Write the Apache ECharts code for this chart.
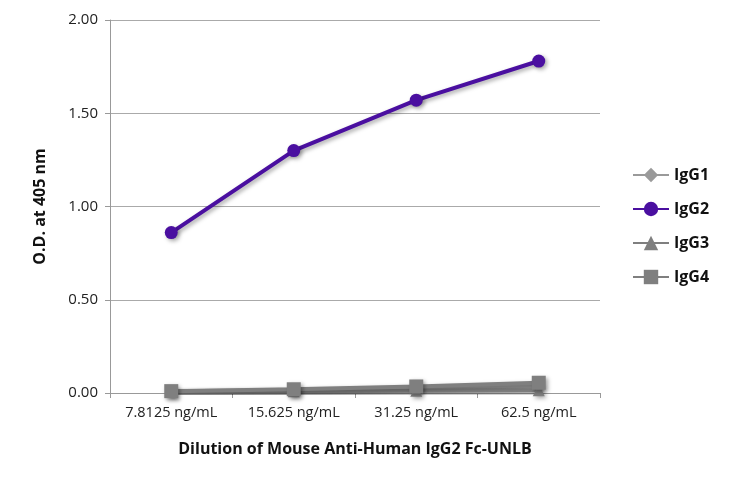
<!DOCTYPE html>
<html>
<head>
<meta charset="utf-8">
<script src="https://cdn.jsdelivr.net/npm/echarts@6/dist/echarts.min.js"></script>
<style>
  html, body { margin: 0; padding: 0; background: #fff; }
  #chart { width: 730px; height: 478px; }
</style>
</head>
<body>
<div id="chart"></div>
<script>
const categories = ["7.8125 ng/mL", "15.625 ng/mL", "31.25 ng/mL", "62.5 ng/mL"];
const igg1 = [0.01, 0.015, 0.025, 0.035];
const igg2 = [0.86, 1.30, 1.57, 1.78];
const igg3 = [0.005, 0.01, 0.012, 0.015];
const igg4 = [0.01, 0.02, 0.035, 0.055];
const yTicks = [0, 0.5, 1, 1.5, 2];

const gray = "#7f7f7f";
const purple = "#4a0fa0";
const font = "'Open Sans', 'Noto Sans', sans-serif";

const chart = echarts.init(document.getElementById("chart"));

function mkSeries(name, data, color, symbol, size) {
  return {
    name: name,
    type: "line",
    data: data,
    symbol: symbol,
    symbolSize: size,
    lineStyle: { color: color, width: 4, shadowColor: "rgba(0,0,0,0.35)", shadowBlur: 4, shadowOffsetX: 2, shadowOffsetY: 2 },
    itemStyle: { color: color, shadowColor: "rgba(0,0,0,0.35)", shadowBlur: 4, shadowOffsetX: 2, shadowOffsetY: 2 }
  };
}

const option = {
  animation: false,
  textStyle: { fontFamily: font },
  grid: { left: 110, right: 130, top: 20, bottom: 85, containLabel: false },
  legend: {
    orient: "vertical",
    left: 627,
    top: 162,
    itemGap: 18,
    itemWidth: 36,
    itemHeight: 18,
    textStyle: { fontFamily: font, fontSize: 16, fontWeight: "bold", color: "#111" },
    data: ["IgG1", "IgG2", "IgG3", "IgG4"]
  },
  xAxis: {
    type: "category",
    data: categories,
    boundaryGap: true,
    name: "Dilution of Mouse Anti-Human IgG2 Fc-UNLB",
    nameLocation: "middle",
    nameGap: 48,
    nameTextStyle: { fontFamily: font, fontSize: 16, fontWeight: "bold", color: "#111" },
    axisLine: { lineStyle: { color: "#999", width: 1 } },
    axisTick: { show: true, length: 5, lineStyle: { color: "#999" } },
    axisLabel: { fontFamily: font, fontSize: 14.5, color: "#222", margin: 12, interval: 0 }
  },
  yAxis: {
    type: "value",
    min: 0,
    max: 2,
    interval: 0.5,
    name: "O.D. at 405 nm",
    nameLocation: "middle",
    nameGap: 62,
    nameTextStyle: { fontFamily: font, fontSize: 16, fontWeight: "bold", color: "#111" },
    axisLine: { show: true, lineStyle: { color: "#999", width: 1 } },
    axisTick: { show: true, length: 5, lineStyle: { color: "#999" } },
    splitLine: { show: true, lineStyle: { color: "#aaa", width: 1 } },
    axisLabel: {
      fontFamily: font, fontSize: 15, color: "#222", margin: 12,
      formatter: v => yTicks.includes(v) ? v.toFixed(2) : ""
    }
  },
  series: [
    mkSeries("IgG1", igg1, "#9a9a9a", "diamond", 10),
    mkSeries("IgG3", igg3, gray, "triangle", 12),
    mkSeries("IgG4", igg4, gray, "rect", 14),
    mkSeries("IgG2", igg2, purple, "circle", 13)
  ]
};

chart.setOption(option);
</script>
</body>
</html>
